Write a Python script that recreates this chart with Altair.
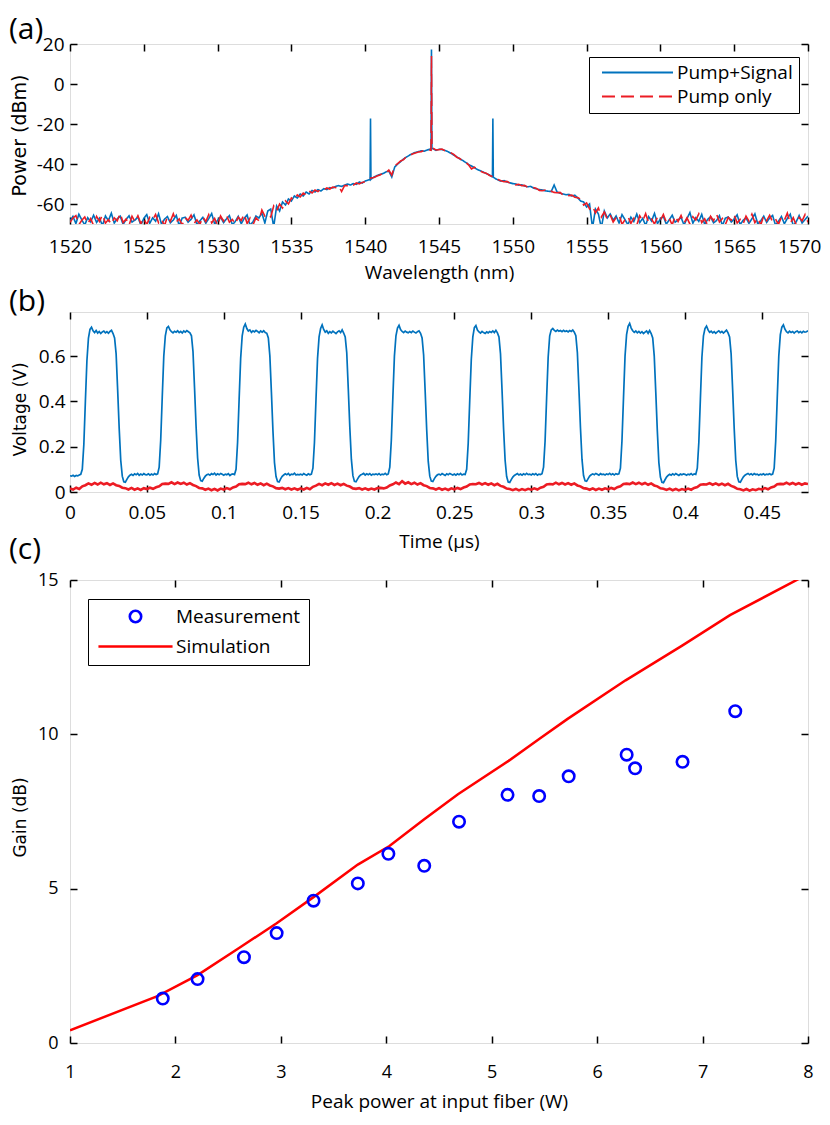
import altair as alt
import numpy as np
import pandas as pd

BLUE = "#0072BD"
RED = "#EC1C24"
MBLUE = "#0000FF"
SRED = "#FF0000"
FONT = "Open Sans"
YFONT = "DejaVu Sans"

PLOT_W = 738
H_A, H_B, H_C = 180, 180, 463
TICK = 7

# ---------------- (a) optical spectrum ----------------
wl_start, wl_step = 1520.0, 0.2
blue_db = [
    # 1520.0 - 1532.6 noise floor
    -68.5, -66.2, -69.8, -65.1, -67.9, -70.5, -66.8, -68.9, -65.6, -69.2,
    -67.1, -70.8, -66.0, -68.3, -64.6, -69.5, -67.4, -66.1, -70.2, -67.8,
    -65.9, -69.0, -68.1, -66.4, -70.6, -67.2, -65.3, -69.7, -66.9, -68.6,
    -64.9, -70.1, -67.6, -66.3, -69.4, -68.0, -65.7, -70.9, -67.0, -66.6,
    -69.1, -67.7, -65.4, -70.3, -68.4, -66.7, -69.6, -67.3, -64.8, -70.0,
    -68.2, -66.5, -69.3, -67.5, -65.8, -70.4, -68.7, -66.2, -69.9, -67.2,
    -65.5, -70.7, -68.8, -66.0,
    # 1532.8 - 1556.6 amplified band
    -67.0, -64.5, -69.5, -63.5,
    -62.5, -71.5, -61.0, -63.5, -59.0, -60.5, -57.5, -58.5, -56.0, -57.0,
    -55.0, -56.0, -54.0, -55.0, -53.2, -54.0, -52.8, -53.5, -52.3, -52.8,
    -51.8, -52.0, -51.2, -50.8, -51.2, -50.6,
    -50.0, -50.5, -49.8, -50.2, -49.0, -49.5, -48.5, -48.0, -47.5, -46.5,
    -45.8, -45.2, -44.8, -44.0, -43.5, -46.5, -41.5, -40.0, -38.8, -37.5,
    -36.5, -35.6, -34.8, -34.2, -33.8, -33.4, -33.6, -33.0, -32.6, -32.4,
    -33.2, -32.6, -32.8, -33.2, -33.8, -34.6, -35.5, -36.4, -37.4, -38.2,
    -39.2, -40.2, -41.0, -41.8, -42.8, -43.4, -44.0, -44.8, -45.4, -46.4,
    -47.2, -48.0, -48.6, -48.3, -49.0, -49.4, -49.8, -50.0, -50.6, -50.4,
    -51.0, -51.4, -51.2, -52.0, -52.4, -52.8,
    -53.0, -53.4, -53.6, -53.8, -50.5, -54.0, -54.6, -55.0, -55.4, -55.2,
    -56.0, -55.6, -57.0, -58.5, -59.0, -61.5, -60.0, -72.0, -62.5, -65.0,
    -72.0, -63.5, -67.0, -65.0,
    # 1556.8 - 1570.0 noise floor
    -68.1, -66.0, -69.5, -65.3, -67.8, -70.4, -66.6, -68.8, -65.0, -69.3,
    -67.2, -70.7, -66.3, -68.5, -64.7, -69.8, -67.5, -66.2, -70.1, -67.9,
    -65.6, -69.1, -68.0, -66.7, -70.5, -67.3, -64.3, -69.6, -66.8, -68.7,
    -65.2, -70.2, -67.7, -66.4, -69.4, -68.3, -65.9, -70.8, -67.1, -66.5,
    -69.0, -67.6, -65.4, -70.3, -68.2, -66.9, -69.7, -67.4, -64.9, -70.0,
    -68.4, -66.1, -69.2, -67.0, -65.7, -70.6, -68.6, -66.3, -69.9, -67.2,
    -65.1, -70.9, -68.9, -65.8, -69.5, -67.8, -66.0,
]
red_db = [
    -69.2, -67.0, -65.8, -70.4, -68.1, -66.5, -69.9, -67.3, -70.8, -66.2,
    -68.7, -65.4, -69.6, -67.8, -70.1, -66.9, -68.4, -64.7, -69.3, -67.5,
    -70.6, -66.1, -68.9, -65.9, -69.8, -67.1, -70.3, -66.7, -68.0, -65.2,
    -69.4, -67.6, -70.9, -66.3, -68.6, -64.9, -69.0, -67.4, -70.5, -66.8,
    -68.2, -65.6, -69.7, -67.9, -70.2, -66.4, -68.8, -65.3, -69.5, -67.2,
    -70.7, -66.0, -68.5, -65.7, -69.1, -67.7, -70.0, -66.6, -68.3, -65.1,
    -69.8, -67.0, -70.4, -66.9,
    -68.5, -63.0, -66.0, -65.0,
    -66.5, -61.0, -63.5, -60.0, -62.0, -58.5, -60.0, -57.0, -58.0, -55.5,
    -56.5, -54.5, -55.5, -53.5, -54.5, -53.0, -53.8, -52.5, -53.0, -52.0,
    -52.5, -51.5, -51.8, -51.0, -53.8, -50.8,
    -50.8, -50.0, -50.6, -49.5, -50.0, -49.2, -48.8, -47.5, -47.0, -46.8,
    -46.0, -45.5, -44.6, -44.5, -43.0, -45.5, -41.0, -39.8, -38.5, -37.8,
    -36.2, -35.8, -35.0, -34.5, -34.0, -33.8, -33.2, -33.4, -33.0, -32.2,
    -33.0, -32.8, -32.5, -33.4, -34.0, -34.4, -35.2, -36.6, -37.2, -38.4,
    -39.0, -40.4, -42.5, -41.6, -42.6, -43.6, -44.2, -44.6, -45.6, -46.2,
    -47.4, -47.8, -48.4, -48.9, -48.7, -49.6, -49.5, -50.4, -50.2, -50.9,
    -50.7, -51.6, -51.5, -51.8, -52.2, -53.2,
    -53.4, -53.0, -54.0, -53.6, -54.2, -54.4, -54.2, -55.4, -55.0, -55.8,
    -55.6, -56.6, -56.8, -57.6, -60.5, -59.5, -62.5, -61.0, -64.5, -62.0,
    -66.5, -64.0, -67.5, -65.5,
    -69.0, -66.8, -65.5, -70.2, -67.9, -66.3, -69.7, -67.1, -70.6, -65.9,
    -68.5, -64.8, -69.4, -67.6, -70.0, -66.6, -68.2, -65.2, -69.1, -67.3,
    -70.4, -66.0, -68.7, -65.7, -69.6, -66.9, -70.1, -66.4, -68.0, -64.9,
    -69.3, -67.4, -70.7, -66.2, -68.4, -65.0, -69.0, -67.2, -70.3, -66.7,
    -68.1, -65.4, -69.5, -67.7, -70.0, -66.1, -68.6, -65.1, -69.3, -67.0,
    -70.5, -65.8, -68.3, -65.6, -69.0, -67.5, -70.2, -66.5, -68.1, -64.6,
    -69.6, -66.8, -70.4, -66.7, -68.4, -65.3, -69.1,
]
# narrow spectral lines (signal, pump, idler)
blue_spike_wl = [1540.33, 1540.36, 1540.39, 1544.46, 1544.49, 1544.52, 1548.62, 1548.65, 1548.68]
blue_spike_db = [-47.8, -17.3, -47.6, -32.8, 17.2, -32.4, -46.3, -17.3, -46.6]
red_spike_wl = [1544.46, 1544.49, 1544.52]
red_spike_db = [-33.1, 14.0, -32.4]

# ---------------- (b) time traces ----------------
blue_t_step = 0.001
blue_v = [
    0.072, 0.070, 0.074, 0.069, 0.073, 0.071, 0.075, 0.078,
    0.100, 0.210, 0.400, 0.580, 0.680,
    0.718, 0.728, 0.712, 0.704, 0.713, 0.702, 0.709, 0.700, 0.707, 0.711, 0.703, 0.708, 0.701, 0.709, 0.714, 0.700,
    0.680, 0.610, 0.450, 0.280, 0.140, 0.070, 0.045, 0.043, 0.056, 0.067, 0.074,
    0.078, 0.073, 0.080, 0.076, 0.082, 0.074, 0.079, 0.075, 0.081, 0.077,

    0.076, 0.080, 0.074, 0.079, 0.075, 0.081, 0.077, 0.080,
    0.110, 0.230, 0.420, 0.600, 0.690,
    0.725, 0.731, 0.716, 0.708, 0.703, 0.710, 0.706, 0.712, 0.704, 0.709, 0.702, 0.711, 0.706, 0.713, 0.708, 0.703,
    0.690, 0.620, 0.460, 0.290, 0.150, 0.075, 0.050, 0.048, 0.060, 0.070, 0.076,
    0.079, 0.074, 0.081, 0.077, 0.083, 0.075, 0.080, 0.076, 0.082, 0.078,

    0.074, 0.079, 0.076, 0.081, 0.073, 0.078, 0.080, 0.077,
    0.100, 0.220, 0.410, 0.590, 0.690,
    0.728, 0.742, 0.722, 0.711, 0.716, 0.705, 0.712, 0.707, 0.714, 0.709, 0.703, 0.711, 0.706, 0.712, 0.704, 0.701,
    0.680, 0.600, 0.440, 0.270, 0.130, 0.068, 0.046, 0.044, 0.058, 0.069, 0.075,
    0.080, 0.076, 0.082, 0.074, 0.079, 0.077, 0.083, 0.075, 0.078, 0.076,

    0.079, 0.075, 0.081, 0.077, 0.074, 0.080, 0.076, 0.079,
    0.105, 0.220, 0.410, 0.590, 0.685,
    0.722, 0.738, 0.718, 0.706, 0.712, 0.701, 0.708, 0.703, 0.710, 0.705, 0.700, 0.707, 0.712, 0.704, 0.716, 0.702,
    0.685, 0.615, 0.455, 0.285, 0.145, 0.072, 0.047, 0.045, 0.057, 0.068, 0.075,
    0.078, 0.082, 0.075, 0.080, 0.076, 0.081, 0.074, 0.079, 0.077, 0.080,

    0.076, 0.081, 0.075, 0.079, 0.077, 0.082, 0.076, 0.080,
    0.110, 0.230, 0.420, 0.600, 0.690,
    0.724, 0.736, 0.717, 0.709, 0.704, 0.711, 0.706, 0.703, 0.709, 0.704, 0.711, 0.706, 0.702, 0.708, 0.712, 0.701,
    0.680, 0.605, 0.445, 0.275, 0.135, 0.070, 0.048, 0.046, 0.059, 0.069, 0.076,
    0.079, 0.075, 0.081, 0.077, 0.073, 0.080, 0.076, 0.082, 0.078, 0.075,

    0.079, 0.074, 0.080, 0.076, 0.082, 0.075, 0.079, 0.077,
    0.100, 0.215, 0.405, 0.585, 0.685,
    0.726, 0.735, 0.715, 0.707, 0.702, 0.709, 0.704, 0.700, 0.707, 0.703, 0.709, 0.705, 0.711, 0.704, 0.714, 0.703,
    0.685, 0.610, 0.450, 0.280, 0.140, 0.068, 0.044, 0.042, 0.055, 0.066, 0.073,
    0.077, 0.081, 0.075, 0.079, 0.074, 0.080, 0.076, 0.082, 0.077, 0.079,

    0.075, 0.080, 0.076, 0.081, 0.074, 0.079, 0.077, 0.081,
    0.110, 0.225, 0.415, 0.595, 0.690,
    0.716, 0.722, 0.714, 0.709, 0.715, 0.710, 0.713, 0.708, 0.714, 0.709, 0.712, 0.707, 0.713, 0.709, 0.715, 0.706,
    0.690, 0.615, 0.455, 0.285, 0.145, 0.073, 0.049, 0.047, 0.059, 0.070, 0.076,
    0.080, 0.076, 0.082, 0.078, 0.074, 0.081, 0.077, 0.079, 0.075, 0.080,

    0.077, 0.082, 0.076, 0.080, 0.075, 0.081, 0.078, 0.080,
    0.105, 0.225, 0.415, 0.600, 0.695,
    0.732, 0.745, 0.724, 0.712, 0.705, 0.711, 0.703, 0.709, 0.702, 0.708, 0.700, 0.706, 0.711, 0.701, 0.713, 0.700,
    0.680, 0.600, 0.440, 0.270, 0.130, 0.066, 0.043, 0.041, 0.054, 0.066, 0.073,
    0.078, 0.074, 0.080, 0.075, 0.081, 0.077, 0.073, 0.079, 0.076, 0.080,

    0.078, 0.074, 0.079, 0.076, 0.081, 0.075, 0.080, 0.078,
    0.105, 0.220, 0.410, 0.595, 0.690,
    0.722, 0.733, 0.716, 0.705, 0.710, 0.703, 0.708, 0.701, 0.707, 0.712, 0.704, 0.709, 0.702, 0.708, 0.715, 0.703,
    0.685, 0.610, 0.450, 0.280, 0.140, 0.069, 0.045, 0.043, 0.056, 0.067, 0.074,
    0.078, 0.082, 0.076, 0.080, 0.075, 0.081, 0.077, 0.079, 0.074, 0.079,

    0.076, 0.080, 0.075, 0.079, 0.077, 0.081, 0.076, 0.079,
    0.105, 0.225, 0.415, 0.600, 0.695,
    0.728, 0.738, 0.719, 0.708, 0.703, 0.710, 0.705, 0.709, 0.702, 0.708, 0.711, 0.704, 0.709, 0.703, 0.710, 0.706,
    0.708, 0.712,
]
red_t_step = 0.002
red_v = [
    0.016, 0.011, 0.019, 0.013, 0.025, 0.030, 0.038, 0.032, 0.040, 0.033, 0.041, 0.034, 0.039,
    0.031, 0.038, 0.030, 0.027, 0.019, 0.017, 0.011, 0.018, 0.010, 0.016, 0.009, 0.017,
    0.013, 0.019, 0.014, 0.021, 0.025, 0.035, 0.037, 0.036, 0.043, 0.035, 0.042, 0.036, 0.041,
    0.033, 0.039, 0.031, 0.026, 0.018, 0.016, 0.010, 0.015, 0.008, 0.014, 0.007, 0.015,
    0.011, 0.017, 0.012, 0.020, 0.024, 0.034, 0.036, 0.035, 0.041, 0.034, 0.040, 0.032, 0.038,
    0.030, 0.037, 0.029, 0.025, 0.017, 0.015, 0.018, 0.012, 0.017, 0.011, 0.016, 0.010,
    0.016, 0.011, 0.018, 0.012, 0.023, 0.028, 0.036, 0.030, 0.038, 0.032, 0.039, 0.031, 0.037,
    0.030, 0.036, 0.028, 0.024, 0.016, 0.014, 0.017, 0.011, 0.016, 0.010, 0.015, 0.011,
    0.017, 0.018, 0.016, 0.020, 0.029, 0.034, 0.042, 0.035, 0.048, 0.037, 0.043, 0.035, 0.041,
    0.033, 0.039, 0.030, 0.026, 0.018, 0.016, 0.011, 0.017, 0.010, 0.015, 0.009, 0.016,
    0.012, 0.018, 0.013, 0.020, 0.024, 0.033, 0.035, 0.034, 0.040, 0.033, 0.039, 0.032, 0.038,
    0.030, 0.036, 0.027, 0.023, 0.015, 0.013, 0.008, 0.014, 0.007, 0.013, 0.008, 0.014,
    0.010, 0.016, 0.011, 0.019, 0.023, 0.033, 0.035, 0.034, 0.041, 0.034, 0.040, 0.033, 0.039,
    0.032, 0.038, 0.029, 0.025, 0.017, 0.015, 0.010, 0.016, 0.009, 0.015, 0.010, 0.016,
    0.012, 0.018, 0.013, 0.021, 0.025, 0.035, 0.037, 0.035, 0.042, 0.035, 0.041, 0.034, 0.040,
    0.032, 0.038, 0.029, 0.025, 0.016, 0.014, 0.009, 0.015, 0.008, 0.014, 0.007, 0.013,
    0.009, 0.015, 0.010, 0.018, 0.022, 0.032, 0.034, 0.033, 0.039, 0.032, 0.038, 0.031, 0.037,
    0.030, 0.036, 0.027, 0.022, 0.014, 0.012, 0.007, 0.013, 0.006, 0.012, 0.008, 0.014,
    0.011, 0.017, 0.012, 0.020, 0.024, 0.034, 0.036, 0.035, 0.041, 0.034, 0.040, 0.033, 0.039,
    0.032, 0.038, 0.035,
]

# ---------------- (c) gain vs pump power ----------------
meas_p = [1.88, 2.21, 2.65, 2.96, 3.31, 3.73, 4.02, 4.36, 4.69, 5.15, 5.45, 5.73, 6.28, 6.36, 6.81, 7.31]
meas_g = [1.44, 2.07, 2.78, 3.56, 4.61, 5.17, 6.13, 5.74, 7.17, 8.04, 8.00, 8.64, 9.34, 8.90, 9.11, 10.75]
sim_p = [1.0, 1.83, 2.21, 2.60, 2.96, 3.32, 3.73, 4.03, 4.36, 4.68, 5.16, 5.45, 5.72, 6.27, 6.81, 7.26, 7.92]
sim_g = [0.41, 1.52, 2.20, 3.07, 3.88, 4.75, 5.78, 6.38, 7.25, 8.06, 9.14, 9.85, 10.5, 11.75, 12.88, 13.86, 15.05]

# ---------------- tables ----------------
def spectrum(vals, spike_wl, spike_db, name):
    grid = np.round(wl_start + wl_step * np.arange(len(vals)), 2)
    df = pd.DataFrame({"wl": list(grid) + spike_wl, "db": list(vals) + spike_db})
    df["series"] = name
    return df.sort_values("wl").reset_index(drop=True)

df_a_blue = spectrum(blue_db, blue_spike_wl, blue_spike_db, "Pump+Signal")
df_a_red = spectrum(red_db, red_spike_wl, red_spike_db, "Pump only")
df_b_blue = pd.DataFrame({"t": np.round(blue_t_step * np.arange(len(blue_v)), 4), "v": blue_v})
df_b_red = pd.DataFrame({"t": np.round(red_t_step * np.arange(len(red_v)), 4), "v": red_v})
df_meas = pd.DataFrame({"p": meas_p, "g": meas_g, "series": "Measurement"})
df_sim = pd.DataFrame({"p": sim_p, "g": sim_g, "series": "Simulation"})


def xaxis(values, title, H, label_pad, title_y, lsize=19, tsize=19, **extra):
    return alt.Axis(values=values, title=title, labelExpr="'' + datum.value",
                    labelFont=FONT, labelFontSize=lsize, labelColor="black", labelPadding=label_pad,
                    labelFlush=False, labelOverlap=False, ticks=False, tickSize=0, domain=False,
                    grid=True, gridColor="black", gridOpacity=1, gridWidth=1.5,
                    gridDash=[TICK, H - 2 * TICK, TICK, 4000],
                    titleFont=FONT, titleFontSize=tsize, titleFontWeight="normal", titleColor="black",
                    titleY=title_y, titleBaseline="middle", **extra)


def yaxis(values, title, label_pad, title_x, title_y, lsize=19, tsize=17):
    return alt.Axis(values=values, title=title, labelExpr="'' + datum.value",
                    labelFont=FONT, labelFontSize=lsize, labelColor="black", labelPadding=label_pad,
                    labelFlush=False, labelOverlap=False, ticks=False, tickSize=0, domain=False,
                    grid=True, gridColor="black", gridOpacity=1, gridWidth=1.5,
                    gridDash=[TICK, PLOT_W - 2 * TICK, TICK, 4000],
                    titleFont=YFONT, titleFontSize=tsize, titleFontWeight="normal", titleColor="black",
                    titleX=title_x, titleY=title_y, titleBaseline="middle")


def panel_title(txt, offset):
    return alt.TitleParams(txt, anchor="start", frame="group", dx=-61, offset=offset,
                           fontSize=30, font=FONT, fontWeight="normal", color="black",
                           baseline="bottom")


# ---- panel (a)
xa = alt.X("wl:Q", scale=alt.Scale(domain=[1520, 1570], nice=False, zero=False),
           axis=xaxis([1520, 1525, 1530, 1535, 1540, 1545, 1550, 1555, 1560, 1565, 1570],
                      "Wavelength (nm)", H_A, 13, 48,
                      labelAlign={"condition": {"test": "datum.value == 1570", "value": "right"},
                                  "value": "center"},
                      labelOffset={"condition": {"test": "datum.value == 1570", "value": 13},
                                   "value": 0}))
ya = alt.Y("db:Q", scale=alt.Scale(domain=[-70, 20], nice=False, zero=False),
           axis=yaxis([-60, -40, -20, 0, 20], "Power (dBm)", 6, -51, 91, tsize=19))
series_a = ["Pump+Signal", "Pump only"]
leg_a_kw = dict(title=None, orient="none", legendX=519, legendY=13, symbolType="M-6.23,0H6.23",
                symbolSize=130, symbolStrokeWidth=2, symbolOffset=33, labelOffset=30,
                labelFont=FONT, labelFontSize=19, labelColor="black", padding=6, rowPadding=4,
                fillColor="white", strokeColor="black")
color_a = alt.Color("series:N", scale=alt.Scale(domain=series_a, range=[BLUE, RED]),
                    legend=alt.Legend(**leg_a_kw))
dash_a = alt.StrokeDash("series:N", scale=alt.Scale(domain=series_a, range=[[1, 0], [13, 6]]),
                        legend=alt.Legend(**leg_a_kw))
chart_a = alt.layer(
    alt.Chart(df_a_blue).mark_line(strokeWidth=1.6, clip=True).encode(x=xa, y=ya, color=color_a,
                                                                       strokeDash=dash_a),
    alt.Chart(df_a_red).mark_line(strokeWidth=1.6, clip=True).encode(x=xa, y=ya, color=color_a,
                                                                      strokeDash=dash_a),
).properties(width=PLOT_W, height=H_A, title=panel_title("(a)", -40))

# ---- panel (b)
xb = alt.X("t:Q", scale=alt.Scale(domain=[0, 0.48], nice=False, zero=False),
           axis=xaxis([0, 0.05, 0.1, 0.15, 0.2, 0.25, 0.3, 0.35, 0.4, 0.45], "Time (\u03bcs)", H_B, 11, 49))
yb = alt.Y("v:Q", scale=alt.Scale(domain=[0, 0.795], nice=False, zero=False),
           axis=yaxis([0, 0.2, 0.4, 0.6], "Voltage (V)", 5, -50, 97))
chart_b = alt.layer(
    alt.Chart(df_b_blue).mark_line(color=BLUE, strokeWidth=1.7, clip=True).encode(x=xb, y=yb),
    alt.Chart(df_b_red).mark_line(color=RED, strokeWidth=2.6, clip=True).encode(x=xb, y=yb),
).properties(width=PLOT_W, height=H_B, title=panel_title("(b)", -35))

# ---- panel (c)
xc = alt.X("p:Q", scale=alt.Scale(domain=[1, 8], nice=False, zero=False),
           axis=xaxis([1, 2, 3, 4, 5, 6, 7, 8], "Peak power at input fiber (W)", H_C, 20, 58, lsize=18))
yc = alt.Y("g:Q", scale=alt.Scale(domain=[0, 15], nice=False, zero=False),
           axis=yaxis([0, 5, 10, 15], "Gain (dB)", 12, -50, 237, lsize=18))
leg_c_kw = dict(title=None, orient="none", legendX=18, legendY=19, symbolSize=130, symbolStrokeWidth=2.6,
                symbolOffset=30, labelOffset=31, labelFont=FONT, labelFontSize=19, labelColor="black",
                padding=8, rowPadding=9, fillColor="white", strokeColor="black",
                symbolFillColor="transparent")
series_c = ["Measurement", "Simulation"]
color_c = alt.Color("series:N", scale=alt.Scale(domain=series_c, range=[MBLUE, SRED]),
                    legend=alt.Legend(**leg_c_kw))
shape_c = alt.Shape("series:N", scale=alt.Scale(domain=series_c, range=["circle", "M-6.5,0H6.5"]),
                    legend=alt.Legend(**leg_c_kw))
chart_c = alt.layer(
    alt.Chart(df_sim).mark_line(strokeWidth=2.5, clip=True).encode(x=xc, y=yc, color=color_c),
    alt.Chart(df_meas).mark_point(filled=False, size=130, strokeWidth=2.6, opacity=1).encode(
        x=xc, y=yc, color=color_c, shape=shape_c),
).properties(width=PLOT_W, height=H_C, title=panel_title("(c)", -24))

chart = alt.vconcat(chart_a, chart_b, chart_c, spacing=88, bounds="flush").resolve_scale(
    color="independent", shape="independent", strokeDash="independent"
).properties(
    padding={"left": 0, "top": 6, "right": 0, "bottom": 0}
).configure_view(stroke="black", strokeWidth=2).configure(font=FONT)

chart.save("out.html", embed_options={"renderer": "svg", "actions": False})
